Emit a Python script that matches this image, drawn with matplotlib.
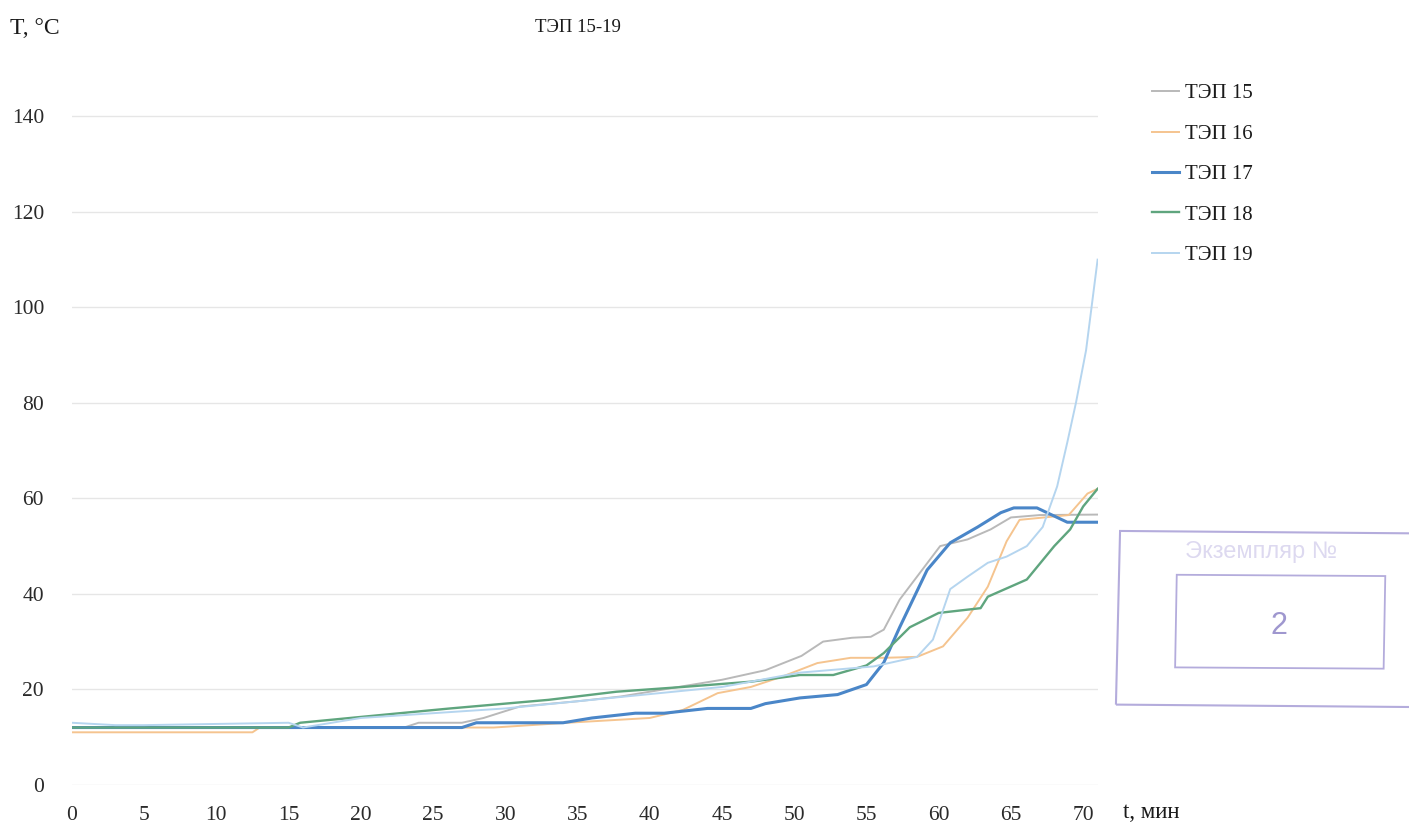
import matplotlib.pyplot as plt
from matplotlib.patches import Rectangle

plt.rcParams['font.family'] = ['Liberation Serif', 'DejaVu Serif']
plt.rcParams['font.size'] = 14

# readings, time in minutes / temperature in deg C
t15 = [0, 23, 24, 27, 28.5, 31, 35, 38, 42, 45, 48, 50.5, 52, 54, 55.3, 56.2, 57.3, 58.5, 60.1, 62, 63.6, 65, 67, 71]
T15 = [12, 12, 13, 13, 14, 16.4, 17.5, 18.5, 20.5, 22, 24, 27, 30, 30.8, 31, 32.5, 38.8, 43.6, 50, 51.4, 53.5, 56, 56.5, 56.6]

t16 = [0, 12.5, 13, 29.2, 34.3, 40, 42.3, 44.7, 47, 49.2, 51.6, 53.9, 56.2, 58.5, 60.3, 62, 63.4, 64.7, 65.6, 69, 70.3, 71]
T16 = [11, 11, 12, 12, 13, 14, 15.7, 19.2, 20.5, 22.7, 25.5, 26.6, 26.6, 26.8, 29, 35, 41.5, 51, 55.5, 56.5, 61, 62]

t17 = [0, 27, 28, 34, 36, 39, 41, 44, 47, 48, 50.4, 53, 55, 56.2, 57.3, 59.2, 60.8, 62.7, 64.3, 65.2, 66.8, 68.9, 71]
T17 = [12, 12, 13, 13, 14, 15, 15, 16, 16, 17, 18.2, 18.9, 21, 25.6, 33, 45, 50.7, 54, 57, 58, 58, 55, 55]

t18 = [0, 15, 15.8, 22.7, 26.2, 33, 37.7, 42.3, 47, 50.4, 52.7, 55, 56.2, 58, 60, 62.9, 63.4, 66.1, 68, 69.1, 70, 71]
T18 = [12, 12, 13, 15, 16, 17.8, 19.5, 20.5, 21.6, 23, 23, 25, 27.6, 33, 36, 37, 39.4, 43, 50, 53.5, 58.3, 62]

t19 = [0, 3, 5, 15, 16, 20, 25, 30, 35, 40, 45, 50.4, 55.5, 58.5, 59.6, 60.8, 62, 63.4, 64.7, 66.1, 67.2, 68.2, 68.9, 69.5, 70.2, 71]
T19 = [13, 12.5, 12.5, 13, 12, 14, 15, 16, 17.5, 19, 20.5, 23.5, 24.8, 26.8, 30.4, 41, 43.6, 46.5, 47.8, 50, 54, 62.5, 71.7, 80, 91, 110]

series = [
    ('ТЭП 15', t15, T15, '#b9b9b9', 1.4),
    ('ТЭП 16', t16, T16, '#f5c48f', 1.4),
    ('ТЭП 17', t17, T17, '#4a86c8', 2.2),
    ('ТЭП 18', t18, T18, '#5fa57e', 1.7),
    ('ТЭП 19', t19, T19, '#b5d5ef', 1.4),
]

fig = plt.figure(figsize=(14.09, 8.27), dpi=100)
ax = fig.add_axes([0.051, 0.051, 0.728, 0.866])

for name, t, T, c, lw in series:
    ax.plot(t, T, color=c, lw=lw, label=name, solid_joinstyle='round')

ax.set_xlim(0, 71)
ax.set_ylim(0, 150)
ax.set_yticks(range(0, 141, 20))
ax.set_xticks(range(0, 71, 5))
ax.grid(axis='y', color='#e6e6e6', lw=1)
ax.set_axisbelow(True)
for s in ax.spines.values():
    s.set_visible(False)
ax.tick_params(length=0, labelsize=15.5, labelcolor='#2a2a2a')
ax.tick_params(axis='x', pad=15)
ax.tick_params(axis='y', pad=20)

fig.text(0.007, 0.965, 'T, °C', fontsize=17, color='#1a1a1a', va='center')
fig.text(0.410, 0.967, 'ТЭП 15-19', fontsize=13.5, color='#1a1a1a', va='center', ha='center')
fig.text(0.797, 0.018, 't, мин', fontsize=16.5, color='#1a1a1a', va='center')

leg = ax.legend(loc='upper left', bbox_to_anchor=(1.035, 1.005), frameon=False,
                handlelength=1.3, handletextpad=0.25, labelspacing=1.0, fontsize=15)
for txt in leg.get_texts():
    txt.set_color('#1a1a1a')

# stamp in the lower right
stamp = '#b4acdc'
fig.patches.append(Rectangle((0.792, 0.148), 0.215, 0.21, transform=fig.transFigure,
                             fill=False, ec=stamp, lw=1.5, angle=-0.8))
fig.patches.append(Rectangle((0.834, 0.193), 0.148, 0.112, transform=fig.transFigure,
                             fill=False, ec=stamp, lw=1.3, angle=-0.6))
fig.text(0.908, 0.243, '2', fontsize=22, color='#9f97cf', ha='center', va='center',
         family=['Liberation Sans', 'DejaVu Sans'])
fig.text(0.895, 0.333, 'Экземпляр №', fontsize=17, color='#ddd9f0', ha='center', va='center',
         family=['Liberation Sans', 'DejaVu Sans'])

fig.savefig('out.png', dpi=100)
